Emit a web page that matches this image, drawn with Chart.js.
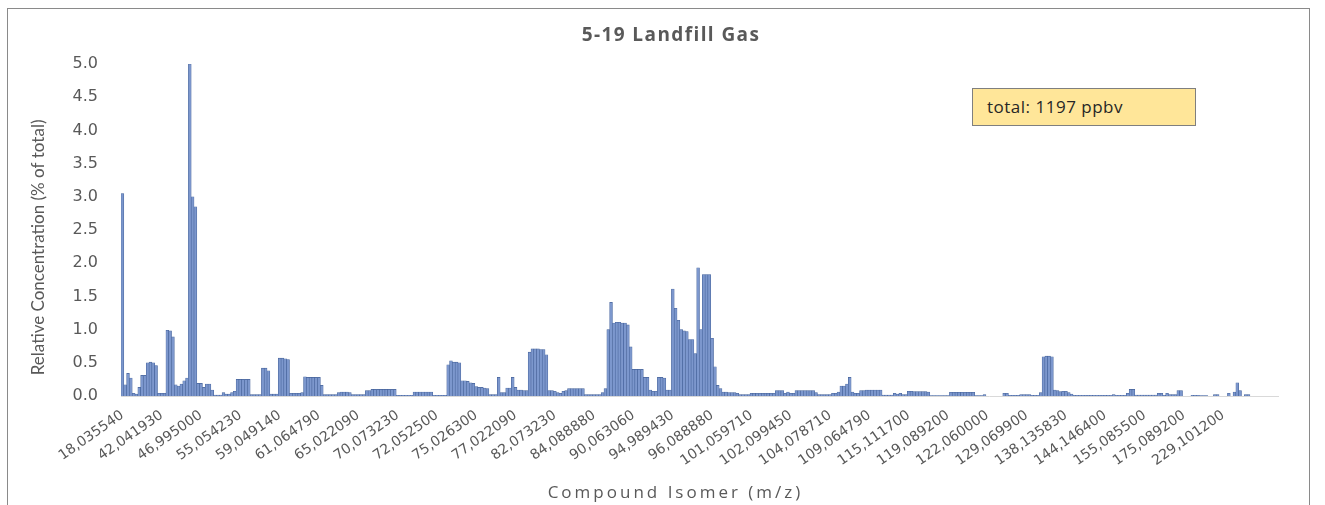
<!DOCTYPE html>
<html>
<head>
<meta charset="utf-8">
<script src="https://cdn.jsdelivr.net/npm/chart.js@4.4.1/dist/chart.umd.min.js"></script>
<style>
  html, body { margin: 0; padding: 0; background: #ffffff; width: 1325px; height: 505px; overflow: hidden; }
  #frame { position: absolute; left: 7px; top: 8px; width: 1303px; height: 530px; border: 1.5px solid #8a8a8a; box-sizing: border-box; }
  #wrap { position: absolute; left: 0; top: 0; width: 1325px; height: 505px; }
  #title { position: absolute; left: 0; top: 21px; width: 1342px; text-align: center; font-family: "Open Sans", sans-serif; font-weight: 700; font-size: 19px; letter-spacing: 1.4px; color: #595959; }
  #total { position: absolute; left: 972px; top: 88px; width: 224px; height: 38px; box-sizing: border-box; background: #ffe699; border: 1px solid #7f7f7f; font-family: "Open Sans", sans-serif; font-size: 17px; letter-spacing: 0.5px; color: #262626; padding: 6px 0 0 14px; }
  #xtitle { position: absolute; left: 0; top: 480px; width: 1351px; text-align: center; font-family: "Open Sans", sans-serif; font-size: 17px; letter-spacing: 3px; color: #595959; }
</style>
</head>
<body>
<div id="frame"></div>
<div id="wrap"><canvas id="c" width="1325" height="505"></canvas></div>
<div id="title">5-19 Landfill Gas</div>
<div id="total">total: 1197 ppbv</div>
<div id="xtitle">Compound Isomer (m/z)</div>
<script>
// Tick labels shown on the category axis (every 14th compound)
const tickLabels = [
  "18,035540", "42,041930", "46,995000", "55,054230", "59,049140", "61,064790",
  "65,022090", "70,073230", "72,052500", "75,026300", "77,022090", "82,073230",
  "84,088880", "90,063060", "94,989430", "96,088880", "101,059710", "102,099450",
  "104,078710", "109,064790", "115,111700", "119,089200", "122,060000", "129,069900",
  "138,135830", "144,146400", "155,085500", "175,089200", "229,101200"
];
const labelStep = 14;

// Relative concentration (% of total), one value per compound isomer
const values = [
  3.05, 0.17, 0.34, 0.27, 0.04, 0.03, 0.13, 0.31, 0.31, 0.50,
  0.51, 0.50, 0.46, 0.04, 0.04, 0.04, 0.99, 0.98, 0.89, 0.17,
  0.15, 0.18, 0.23, 0.27, 5.00, 3.00, 2.85, 0.19, 0.19, 0.13,
  0.18, 0.18, 0.09, 0.015, 0.015, 0.015, 0.05, 0.03, 0.03, 0.05,
  0.07, 0.25, 0.25, 0.25, 0.25, 0.25, 0.02, 0.02, 0.02, 0.02,
  0.42, 0.42, 0.38, 0.03, 0.03, 0.03, 0.57, 0.57, 0.56, 0.55,
  0.04, 0.04, 0.04, 0.04, 0.05, 0.29, 0.28, 0.28, 0.28, 0.28,
  0.28, 0.16, 0.02, 0.02, 0.02, 0.02, 0.02, 0.05, 0.06, 0.06,
  0.06, 0.05, 0.02, 0.02, 0.02, 0.02, 0.02, 0.08, 0.08, 0.10,
  0.10, 0.10, 0.10, 0.10, 0.10, 0.10, 0.10, 0.10, 0.01, 0.01,
  0.01, 0.01, 0.01, 0.01, 0.06, 0.06, 0.06, 0.06, 0.06, 0.06,
  0.06, 0.01, 0.01, 0.01, 0.01, 0.01, 0.47, 0.53, 0.51, 0.51,
  0.50, 0.23, 0.23, 0.22, 0.20, 0.19, 0.14, 0.13, 0.13, 0.12,
  0.11, 0.02, 0.02, 0.02, 0.28, 0.05, 0.05, 0.12, 0.12, 0.28,
  0.13, 0.09, 0.09, 0.08, 0.08, 0.66, 0.71, 0.71, 0.71, 0.70,
  0.70, 0.62, 0.08, 0.08, 0.07, 0.05, 0.04, 0.07, 0.08, 0.11,
  0.11, 0.11, 0.11, 0.11, 0.11, 0.02, 0.02, 0.02, 0.02, 0.02,
  0.02, 0.05, 0.11, 1.00, 1.41, 1.10, 1.11, 1.11, 1.10, 1.10,
  1.07, 0.74, 0.40, 0.40, 0.40, 0.40, 0.28, 0.28, 0.09, 0.07,
  0.07, 0.28, 0.28, 0.27, 0.09, 0.09, 1.61, 1.32, 1.14, 1.00,
  0.98, 0.97, 0.85, 0.85, 0.64, 1.93, 1.00, 1.83, 1.83, 1.83,
  0.87, 0.44, 0.16, 0.11, 0.06, 0.06, 0.05, 0.05, 0.05, 0.04,
  0.02, 0.02, 0.02, 0.02, 0.04, 0.04, 0.04, 0.04, 0.04, 0.04,
  0.04, 0.04, 0.04, 0.08, 0.08, 0.08, 0.04, 0.06, 0.04, 0.04,
  0.08, 0.08, 0.08, 0.08, 0.08, 0.08, 0.08, 0.05, 0.02, 0.02,
  0.02, 0.02, 0.02, 0.04, 0.04, 0.06, 0.15, 0.15, 0.18, 0.28,
  0.06, 0.04, 0.04, 0.08, 0.08, 0.09, 0.09, 0.09, 0.09, 0.09,
  0.09, 0.015, 0.015, 0.015, 0.015, 0.04, 0.03, 0.04, 0.02, 0.02,
  0.07, 0.07, 0.065, 0.065, 0.065, 0.065, 0.065, 0.06, 0.005, 0.005,
  0.005, 0.005, 0.005, 0.005, 0.005, 0.055, 0.055, 0.055, 0.055, 0.055,
  0.055, 0.055, 0.055, 0.055, 0.005, 0.005, 0.005, 0.02, 0, 0,
  0, 0, 0, 0, 0.04, 0.04, 0.01, 0.01, 0.01, 0.01,
  0.02, 0.02, 0.02, 0.02, 0.01, 0.01, 0.01, 0.05, 0.59, 0.60,
  0.60, 0.59, 0.09, 0.08, 0.065, 0.07, 0.07, 0.05, 0.03, 0.01,
  0.01, 0.01, 0.01, 0.01, 0.01, 0.01, 0.01, 0.01, 0.01, 0.01,
  0.01, 0.01, 0.01, 0.02, 0.01, 0.01, 0.01, 0.01, 0.04, 0.10,
  0.10, 0.015, 0.015, 0.015, 0.015, 0.015, 0.015, 0.015, 0.015, 0.04,
  0.04, 0.01, 0.04, 0.02, 0.02, 0.02, 0.08, 0.08, 0, 0,
  0, 0.01, 0.01, 0.01, 0.005, 0.005, 0.005, 0, 0, 0.02,
  0.02, 0, 0, 0, 0.04, 0, 0.06, 0.20, 0.08, 0,
  0.02, 0.02, 0, 0, 0, 0, 0, 0, 0, 0, 0, 0
];

const yTicks = [0, 0.5, 1.0, 1.5, 2.0, 2.5, 3.0, 3.5, 4.0, 4.5, 5.0];

const categories = values.map((_, i) => (i % labelStep === 0 ? (tickLabels[i / labelStep] || "") : ""));

new Chart(document.getElementById("c"), {
  type: "bar",
  data: {
    labels: categories,
    datasets: [{
      label: "Relative Concentration",
      data: values,
      backgroundColor: "#7c97cd",
      borderColor: "#46639a",
      borderWidth: 0.6,
      barPercentage: 1.0,
      categoryPercentage: 1.0
    }]
  },
  options: {
    responsive: false,
    animation: false,
    layout: { padding: { left: 0, right: 47, top: 64, bottom: 0 } },
    plugins: {
      legend: { display: false },
      tooltip: { enabled: false },
      title: { display: false }
    },
    scales: {
      x: {
        grid: { display: false },
        border: { display: true, color: "#d9d9d9", width: 1 },
        ticks: {
          autoSkip: false,
          minRotation: 35,
          maxRotation: 35,
          padding: 3,
          color: "#595959",
          font: { family: "DejaVu Sans", size: 14 }
        },
        afterFit: (s) => { s.height = 109; }
      },
      y: {
        min: 0,
        max: 5,
        grid: { display: false },
        border: { display: false },
        afterBuildTicks: (s) => { s.ticks = yTicks.map(v => ({ value: v })); },
        ticks: {
          padding: 15,
          color: "#595959",
          font: { family: "DejaVu Sans", size: 16 },
          callback: (v) => Number(v).toFixed(1)
        },
        title: {
          display: true,
          text: "Relative Concentration (% of total)        ",
          color: "#595959",
          font: { family: "Lato", size: 17 },
          padding: { top: 28, bottom: 0 }
        },
        afterFit: (s) => { s.width = 121; }
      }
    }
  }
});
</script>
</body>
</html>
